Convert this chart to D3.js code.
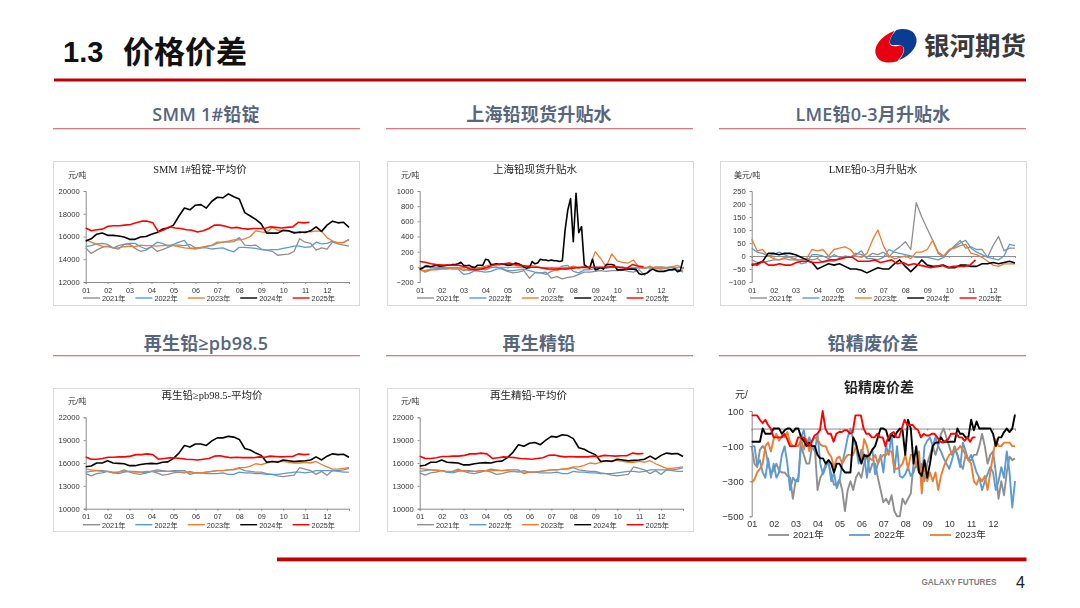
<!DOCTYPE html>
<html><head><meta charset="utf-8">
<script src="https://cdn.jsdelivr.net/npm/d3@7"></script>
<style>html,body{margin:0;padding:0;background:#fff}svg{display:block}
.soft{filter:blur(.45px)}</style></head><body><div id="c"></div>
<script>
const months=["01","02","03","04","05","06","07","08","09","10","11","12"];
const years=["2021年","2022年","2023年","2024年","2025年"];
const colors=["#8f8f8f","#5b9bd5","#ed7d31","#000000","#ff0000"];
const endMonth=[12,12,12,12,10.2];
// SMM 1#
const a21=[15000,14500,14800,15050,15150,15000,15200,15300,15350,14950,14700,14800,15100,14700,14850,15050,15250,15250,15200,15300,15000,15050,15100,15250,15500,15500,15500,15550,15900,15250,15200,15250,14900,14800,14700,14350,14400,14450,14700,15800,15500,15400,14800,15000,14900,15500,15350,15250,15150];
const a22=[15100,15200,15350,15400,15300,15000,14900,15300,15400,15400,15100,14900,15100,15500,15400,15150,15300,15500,15650,15000,14950,15000,15000,14900,14950,15000,14800,14650,15050,15050,15000,14950,14850,14800,14850,14850,14950,15050,15150,15150,15050,15100,15500,15350,15400,15600,15450,15450,15750];
const a23=[15700,15500,15300,15150,15100,15000,15000,15100,15150,15100,15250,15200,15200,15150,15200,15250,15200,15100,15000,14950,14900,15000,15150,15200,15400,15500,15600,15700,15700,15800,16000,16500,16400,16350,16800,16550,16500,16450,16400,16300,16450,16400,16500,16450,15900,15600,15450,15500,15700];
const a24=[15600,15800,16200,16300,16100,16100,16050,15950,15750,15750,15950,16000,16200,16350,16650,16750,17000,17800,18500,18350,18750,18800,18500,19100,19450,19400,19750,19500,19300,18100,17800,17500,17100,16300,16300,16300,16550,16500,16300,16400,16350,16500,16850,16450,17000,17350,17200,17250,16800];
const a25=[16750,16500,16600,16650,16900,16950,16950,17000,17050,17200,17350,17350,17200,16400,16600,16850,16750,16700,16600,16550,16400,16500,16700,17000,17000,16900,16750,16800,16700,16650,16700,16700,16700,16850,16800,16750,16800,16850,17250,17200,17250];
// 上海升贴水
const b21=[-30,-70,-40,-20,-10,-15,-10,-20,-30,-50,-30,-20,-40,-10,0,-30,-60,-80,-70,-50,-150,-80,-80,-70,-150,-130,-160,-140,-130,-100,-70,-70,-60,-50,-60,-50,-50,-40,-60,-70,-40,-110,-30,0,0,-10,0,-70,-40];
const b22=[-40,-50,-30,-30,-20,-20,-30,-30,-100,-90,-50,-60,-70,-60,-30,-20,-50,-50,-40,-30,-50,-70,-80,-100,-60,-40,10,20,-60,-80,-40,-40,-20,-10,-20,0,-10,0,-30,-30,-10,-20,-10,-20,-30,-20,-10,-30,-70];
const b23=[-50,-50,-40,-40,-30,-30,-10,-20,-50,-30,-20,-10,10,30,40,40,30,30,10,-10,20,10,-10,-30,-40,-50,-20,-10,10,-20,10,0,200,110,0,170,80,60,50,90,-10,-20,10,-30,-20,-10,0,20,-20];
const b24=[-30,-20,10,10,0,10,20,10,10,15,20,20,30,30,40,60,20,15,20,0,-10,20,20,20,100,90,30,30,40,30,40,30,20,20,30,50,40,20,0,-20,-10,70,40,50,100,90,90,80,90,80,80,70,80,480,750,900,330,970,450,530,30,0,-20,100,-40,-30,-10,-30,30,30,30,20,-40,-40,-40,-30,-30,-30,-30,-40,-90,-100,-90,-80,-50,-30,-50,-60,-60,-60,-50,-40,-40,-30,-60,-50,90];
const b25=[70,60,40,30,25,25,20,20,0,-30,-40,-30,-10,20,30,40,50,30,20,10,-5,-5,-15,-25,-30,-25,-30,-20,-10,-5,-10,-5,-5,-5,0,0,-10,-20,30,10,0];
// LME
const c21=[-15,-25,-25,-20,-15,-15,-10,-15,-15,-15,-10,-15,-10,-25,-20,-20,-10,0,-5,10,5,-5,10,5,15,-5,20,35,55,25,205,150,105,60,10,-5,20,40,60,30,35,25,25,-5,40,75,20,30,30];
const c22=[30,15,10,0,5,15,5,-5,-10,-30,-25,5,5,0,-10,5,-5,-5,-5,5,20,-10,-10,-15,-5,25,15,10,5,0,-5,-5,-5,-10,-15,-5,20,35,50,60,30,15,5,-5,-10,-15,0,45,40];
const c23=[65,20,25,0,-10,-15,-5,-5,-15,-15,-10,25,20,25,0,25,30,35,25,0,-5,10,60,100,40,0,-10,-5,0,-10,15,15,25,60,15,0,25,30,40,45,10,5,-5,-20,-35,-40,-30,-30,-30];
const c24=[-35,-30,-20,10,10,5,10,10,5,-5,-15,-25,-50,-40,-30,-35,-30,-40,-50,-50,-55,-65,-55,-45,-50,-50,-30,-15,-40,-60,-40,-15,-35,-40,-40,-35,-45,-45,-35,-35,-40,-40,-30,-30,-25,-30,-25,-20,-27];
const c25=[-30,-35,-20,-35,-35,-30,-35,-35,-25,-20,-20,-25,-25,-20,-15,-15,-10,-5,-5,-20,-20,-20,-15,-25,-20,-15,-30,-25,-35,-30,-35,-40,-45,-40,-35,-45,-40,-40,-40,-35,-15];
// 再生铅
const d21=[14600,14300,14600,14700,14900,14700,14800,15100,14800,14600,14500,14700,14900,14700,14400,14500,14700,14800,14700,14900,14700,14700,14800,14900,15000,15000,15100,15100,15300,15000,14900,14800,14800,14600,14500,14300,14200,14300,14400,15400,15200,15000,14500,14900,14400,15000,14900,14800,14800];
const d22=[14800,14900,15000,15000,14900,14700,14600,14800,14900,14900,14800,14700,14900,15100,15000,14900,15000,15000,15000,14500,14700,14700,14600,14600,14600,14700,14500,14500,14800,14700,14700,14600,14600,14500,14500,14500,14600,14700,14800,14800,14700,14800,15000,15000,15000,15000,15000,15100,15300];
const d23=[15200,15100,15000,14900,14900,14800,14800,14900,14900,14800,14800,14900,14900,14900,14900,14900,14900,14800,14800,14700,14700,14700,14800,14900,15000,15000,15100,15200,15400,15400,15600,15900,15800,16000,16200,16200,16200,16100,16000,16000,16100,16000,16200,15800,15500,15200,15200,15300,15400];
const d24=[15500,15600,16000,16000,16300,16000,15950,15900,15650,15650,15800,15900,15950,15900,16100,16150,16600,17300,18300,18100,18500,18500,18300,18900,19300,19300,19500,19400,19100,17900,17700,17300,17000,16100,16200,16100,16400,16300,16200,16250,16300,16400,16800,16400,16900,17200,17100,17150,16750];
const d25=[16800,16500,16500,16600,16750,16750,16800,16800,16900,17100,17100,17200,17100,16500,16600,16700,16650,16600,16500,16450,16400,16500,16600,16900,16950,16800,16700,16750,16700,16700,16700,16800,16750,16900,16850,16800,16850,16850,17200,17100,17150];
// 再生精铅
const e21=[14700,14400,14700,14800,15000,14800,14900,15200,14900,14700,14600,14800,15000,14800,14500,14600,14800,14900,14800,15000,14800,14800,14900,15000,15100,15100,15200,15200,15400,15100,15000,14900,14900,14700,14600,14400,14300,14400,14500,15500,15300,15100,14600,15000,14500,15100,15000,14900,14900];
const e22=[14900,15000,15100,15100,15000,14800,14700,14900,15000,15000,14900,14800,15000,15200,15100,15000,15100,15100,15100,14600,14800,14800,14700,14700,14700,14800,14600,14600,14900,14800,14800,14700,14700,14600,14600,14600,14700,14800,14900,14900,14800,14900,15100,15100,15100,15100,15100,15200,15400];
const e23=[15300,15200,15100,15000,15000,14900,14900,15000,15000,14900,14900,15000,15000,15000,15000,15000,15000,14900,14900,14800,14800,14800,14900,15000,15100,15100,15200,15300,15500,15500,15700,16000,15900,16100,16300,16300,16300,16200,16100,16100,16200,16100,16300,15900,15600,15300,15300,15400,15500];
const e24=[15600,15700,16100,16100,16400,16100,16050,16000,15750,15750,15900,16000,16050,16000,16200,16250,16700,17400,18400,18200,18600,18700,18400,19000,19500,19400,19700,19600,19200,18000,17800,17400,17100,16200,16300,16200,16500,16400,16300,16350,16400,16500,16900,16500,17000,17300,17200,17250,16850];
const e25=[16900,16600,16600,16700,16850,16850,16900,16900,17000,17200,17200,17300,17200,16600,16700,16800,16750,16700,16600,16550,16500,16600,16700,17000,17050,16900,16800,16850,16800,16800,16800,16900,16850,17000,16950,16900,16950,16950,17300,17200,17250];
// 铅精废价差
const f21=[-100,-200,-220,-120,-100,-120,-200,-250,-240,-200,-240,-250,-250,-270,-280,-400,-300,-280,-100,-150,-200,-200,-100,-100,-350,-280,-250,-200,-200,-260,-320,-320,-290,-350,-470,-350,-300,-350,-280,-250,-280,-200,-150,-250,-200,-200,-280,-350,-420,-400,-430,-380,-470,-500,-500,-400,-430,-400,-370,-200,-200,-250,-200,-300,-200,-150,-100,-150,-100,-30,0,-50,-100,-150,-100,-150,-200,-230,-150,-180,-180,-150,-150,-100,-30,-100,-200,-150,-130,-250,-400,-300,-380,-250,-160,-180,-170];
const f22=[-100,-100,-210,-180,-250,-280,-170,-280,-200,-280,-250,-150,-100,-200,-350,-280,-300,-300,-50,-10,-100,-50,-100,-130,-30,-200,-260,-220,-180,-300,-250,-340,-300,-200,-130,-50,0,-60,-100,-200,-120,-150,-280,-150,-120,-260,-200,-150,-250,-100,-150,-30,-250,-100,-270,-280,-260,-220,-270,-250,-200,-180,-300,-100,-70,-50,-100,-50,-100,-130,-170,-200,-230,-180,-120,-150,-220,-80,-130,-180,-150,-200,-250,-280,-350,-300,-260,-220,-250,-350,-300,-220,-280,-130,-250,-450,-300];
const f23=[-310,-290,-250,-230,-200,-100,-80,-130,-60,-30,-70,-40,-50,-20,-80,-100,-100,-100,-60,-120,-60,-130,-70,-50,-60,-90,-100,-100,-140,-160,-220,-170,-160,-200,-170,-150,-150,-150,-100,-140,-180,-60,-100,-170,-180,-150,-200,-170,-150,-150,-130,-130,-230,-230,-220,-200,-150,-230,-150,-150,-220,-130,-370,-200,-300,-250,-300,-250,-350,-270,-220,-180,-150,-140,-120,-120,-100,-120,-150,-180,-200,-300,-320,-280,-300,-270,-350,-250,-150,-60,-100,-100,-80,-80,-80,-100,-100];
const f24=[-75,-75,-75,-75,0,-30,-30,-30,0,0,0,-30,-10,0,0,-20,0,0,-50,-70,-100,-80,-100,-100,-150,-170,-170,-200,-180,-200,-250,-200,-200,-230,-250,-250,-250,-50,-80,-150,-200,-150,-160,-150,-120,-100,-50,0,0,-10,-70,-30,-50,-20,0,-10,-150,50,0,-200,-100,-250,-270,-180,-280,-200,-100,-80,-80,-50,-75,-75,-75,-75,-75,0,-30,-30,-50,-50,50,-10,40,0,0,0,0,0,-30,-100,-50,-50,-20,0,-20,0,80];
const f25=[75,75,75,50,30,50,20,0,-50,-50,-50,-50,-30,-60,-100,-100,-100,-50,-50,-50,-75,-100,-75,-40,-30,-10,100,0,-30,-30,-75,-30,-20,-20,-10,-10,-30,-20,75,75,75,0,-30,-30,-50,-50,-30,-50,-50,-100,-50,-30,-20,-50,-50,0,50,20,20,20,0,-10,-50,-30,-40,-40,-30,-30,-50,-75,-80,-70,-60,-30,-30,-30,-50,-50,-70,-50,-75,-50,-50];

const panels=[
 {title:"SMM 1#铅锭",sub:"SMM 1#铅锭-平均价",unit:"元/吨",s:[a21,a22,a23,a24,a25],dom:[12000,20000],ticks:[12000,14000,16000,18000,20000],box:[53,161,306,144],cx:206,hy:114,ruleY:128,plot:[85.7,349,191,282],tx:200,ux:68},
 {title:"上海铅现货升贴水",sub:"上海铅现货升贴水",unit:"元/吨",s:[b21,b22,b23,b24,b25],dom:[-200,1000],ticks:[-200,0,200,400,600,800,1000],box:[387,161,306,144],cx:539,hy:114,ruleY:128,plot:[419.7,683,191,282],tx:535,ux:401},
 {title:"LME铅0-3月升贴水",sub:"LME铅0-3月升贴水",unit:"美元/吨",s:[c21,c22,c23,c24,c25],dom:[-100,250],ticks:[-100,-50,0,50,100,150,200,250],box:[720,161,306,144],cx:873,hy:114,ruleY:128,plot:[751.7,1015,191,282],tx:873,ux:734},
 {title:"再生铅≥pb98.5",sub:"再生铅≥pb98.5-平均价",unit:"元/吨",s:[d21,d22,d23,d24,d25],dom:[10000,22000],ticks:[10000,13000,16000,19000,22000],box:[53,388,306,143],cx:206,hy:343,ruleY:355,plot:[85.7,349,417.3,508.7],tx:212,ux:68},
 {title:"再生精铅",sub:"再生精铅-平均价",unit:"元/吨",s:[e21,e22,e23,e24,e25],dom:[10000,22000],ticks:[10000,13000,16000,19000,22000],box:[387,388,306,143],cx:539,hy:343,ruleY:355,plot:[419.7,683,417.3,508.7],tx:528.5,ux:401},
 {title:"铅精废价差",sub:"铅精废价差",unit:"元/",s:[f21,f22,f23,f24,f25],dom:[-500,100],ticks:[-500,-300,-100,100],box:null,cx:873,hy:343,ruleY:355,plot:[751.7,1015,411,516.3],tx:879,ux:735,big:true}
];
const W=1080,H=608;
const svg=d3.select("#c").append("svg").attr("width",W).attr("height",H).attr("viewBox",`0 0 ${W} ${H}`);
svg.append("rect").attr("width",W).attr("height",H).attr("fill","#fff");
const SANS="Arial,'Liberation Sans','Noto Sans CJK SC',sans-serif",CJK="'Liberation Sans','Noto Sans CJK SC',sans-serif",HEAD="'Open Sans','Noto Sans CJK SC',sans-serif",SER="'Liberation Serif','Noto Sans CJK SC',serif";
// header
svg.append("text").attr("x",63).attr("y",62).attr("font-family",CJK).attr("font-size",29).attr("font-weight",700).attr("fill","#111").text("1.3");
svg.append("text").attr("x",123).attr("y",62.5).attr("font-family",CJK).attr("font-size",31).attr("font-weight",700).attr("fill","#111").text("价格价差");
svg.append("rect").attr("x",54).attr("y",78.5).attr("width",972).attr("height",3).attr("fill","#c00000");
// logo
const lg=svg.append("g").attr("transform","translate(896,46) rotate(-28)");
lg.append("path").attr("d","M-22,0 A22,14 0 0 1 6,-14 C-6,-8 -8,-2 2,1 C10,4 4,11 -6,14 A22,14 0 0 1 -22,0Z").attr("fill","#e60012");
lg.append("path").attr("d","M22,0 A22,14 0 0 1 -4,14 C8,9 9,3 0,-1 C-8,-4 -2,-11 8,-14 A22,14 0 0 1 22,0Z").attr("fill","#0a3d91");
svg.append("text").attr("x",924).attr("y",55).attr("font-family",CJK).attr("font-size",25.5).attr("font-weight",700).attr("fill","#3a3a3a").text("银河期货");
// footer
svg.append("rect").attr("x",277).attr("y",557.5).attr("width",749.5).attr("height",3.8).attr("fill","#c00000");
svg.append("text").attr("x",921.5).attr("y",585).attr("font-family",SANS).attr("font-size",8.2).attr("font-weight",700).attr("fill","#808080").text("GALAXY FUTURES");
svg.append("text").attr("x",1016).attr("y",587.5).attr("font-family",SANS).attr("font-size",16).attr("fill","#222").text("4");

panels.forEach(p=>{
 // section heading
 svg.append("text").attr("x",p.cx).attr("y",p.hy+6.5).attr("text-anchor","middle").attr("font-family",HEAD).attr("font-size",18).attr("font-weight",600).attr("letter-spacing",".2").attr("fill","#56667e").text(p.title);
 const bx=p.cx-153;
 svg.append("rect").attr("x",p.cx===873?719:bx).attr("y",p.ruleY).attr("width",307).attr("height",1.3).attr("fill","#d97a7e");
 const g=svg.append("g").attr("class","soft");
 if(p.box) g.append("rect").attr("x",p.box[0]+.5).attr("y",p.box[1]+.5).attr("width",p.box[2]).attr("height",p.box[3]).attr("fill","#fff").attr("stroke","#d9d9d9");
 const [l,r,t,b]=p.plot;
 const x=d3.scaleLinear().domain([0,12]).range([l,r]);
 const y=d3.scaleLinear().domain(p.dom).range([b,t]);
 const y0=p.dom[0]<0?y(0):b;
 const axC="#8c8c8c";
 const ya=g.append("g").attr("transform",`translate(${l},0)`).call(d3.axisLeft(y).tickValues(p.ticks).tickSize(2).tickPadding(p.big?6:4).tickFormat(d3.format("d")));
 ya.selectAll("line,path").attr("stroke",axC);
 ya.selectAll("text").attr("font-family",SANS).attr("font-size",p.big?9.5:7.6).attr("fill","#333");
 const xa=g.append("g").attr("transform",`translate(0,${y0})`).call(d3.axisBottom(x).tickValues(d3.range(13)).tickSize(2).tickFormat(""));
 xa.selectAll("line,path").attr("stroke",axC);
 const lbY=p.big?521:b+5.5;
 const xl=g.append("g").attr("transform",`translate(0,${lbY})`).call(d3.axisBottom(x).tickValues(d3.range(12)).tickSize(0).tickPadding(0).tickFormat(i=>months[i]));
 xl.select(".domain").remove();
 xl.selectAll("text").attr("dy","0.71em").attr("font-family",SANS).attr("font-size",p.big?9:7.2).attr("fill","#333");
 // series
 const line=d3.line().x(d=>x(d.m)).y(d=>y(d.v));
 p.s.forEach((arr,k)=>{
  const pts=arr.map((v,i)=>({m:i/(arr.length-1)*endMonth[k],v}));
  g.append("path").attr("d",line(pts)).attr("fill","none").attr("stroke",colors[k]).attr("stroke-width",p.big?1.9:(k>=3?1.6:1.3)).attr("stroke-linejoin","round");
 });
 // titles
 g.append("text").attr("x",p.tx).attr("y",p.big?392:t-18).attr("text-anchor","middle").attr("font-family",p.big?CJK:SER).attr("font-size",p.big?14:10.5).attr("font-weight",p.big?700:400).attr("fill","#222").text(p.sub);
 g.append("text").attr("x",p.ux).attr("y",p.big?398:t-13.5).attr("font-family",CJK).attr("font-size",p.big?10:8).attr("fill","#333").text(p.unit);
 // legend
 const n=p.big?3:5, step=p.big?81:52.4, x0=p.big?768:p.box[0]+30, ly=p.big?535:b+16, ll=p.big?21:17, lt=p.big?4:2;
 d3.range(n).forEach(k=>{
  const lx=x0+step*k;
  g.append("line").attr("x1",lx).attr("x2",lx+ll).attr("y1",ly).attr("y2",ly).attr("stroke",colors[k]).attr("stroke-width",p.big?1.8:1.4);
  g.append("text").attr("x",lx+ll+lt).attr("y",ly+3).attr("font-family",CJK).attr("font-size",p.big?9.5:7.3).attr("fill","#333").text(years[k]);
 });
});
</script></body></html>
